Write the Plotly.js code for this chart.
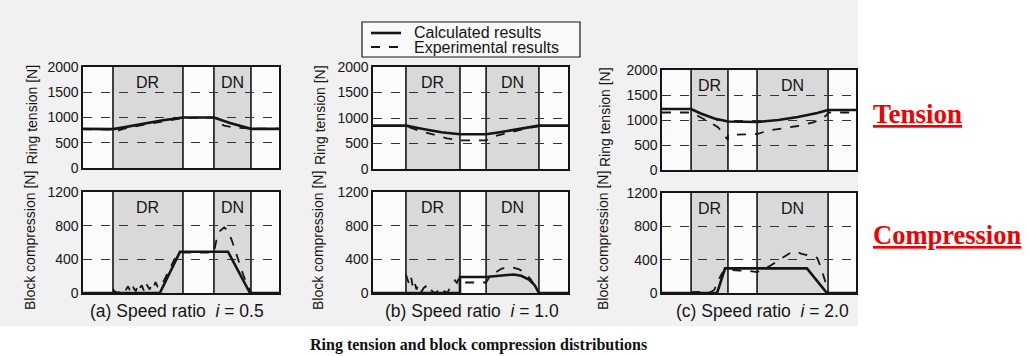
<!DOCTYPE html>
<html>
<head>
<meta charset="utf-8">
<script src="https://cdn.plot.ly/plotly-3.0.1.min.js"></script>
<style>html,body{margin:0;padding:0;background:#fff;}#chart{width:1029px;height:356px;}</style>
</head>
<body>
<div id="chart"></div>
<script>
// ---------- DATA ----------
const seriesNames = ['Calculated results', 'Experimental results'];
const panelCaptions = ['(a) Speed ratio  <i>i</i> = 0.5', '(b) Speed ratio  <i>i</i> = 1.0', '(c) Speed ratio  <i>i</i> = 2.0'];
const tensionTitle = 'Ring tension [N]';
const compressionTitle = 'Block compression [N]';
const tensionTicks = [0, 500, 1000, 1500, 2000];
const compressionTicks = [0, 400, 800, 1200];
const regionLabels = ['DR', 'DN'];

// region boundaries (position along belt, 0-100)
const drA = [15.3, 51.0], dnA = [66.8, 85.7];
const drB = [16.9, 44.6], dnB = [58.0, 85.1];
const drC = [15.0, 34.0], dnC = [49.0, 85.6];

// (a) i = 0.5
const tensCalcAx = [0, 15.3, 20, 30, 40, 51, 66.8, 75, 85.7, 100];
const tensCalcAy = [775, 770, 800, 870, 940, 1000, 1000, 890, 775, 775];
const tensExpAx = [0, 15.3, 16.5, 20, 30, 40, 45, 51, 66.8, 69, 72, 77, 85.7, 100];
const tensExpAy = [770, 760, 720, 770, 850, 920, 960, 990, 1000, 900, 840, 800, 780, 780];
const compCalcAx = [0, 39.2, 49.5, 74, 85.2, 100];
const compCalcAy = [0, 0, 490, 490, 0, 0];
const compExpAx = [15.3, 16, 17, 18, 19, 20, 21, 22, 23, 24, 25, 26, 27, 28, 29, 30, 31, 32, 33, 34, 35, 36, 37, 38, 39, 40, 42, 44, 46, 48, 49.5, 55, 60, 66.8, 68, 70, 72, 74, 76, 78, 80, 82, 84, 85.7];
const compExpAy = [50, 20, 10, 0, 30, 10, 0, 40, 80, 30, 100, 50, 20, 110, 60, 90, 30, 120, 70, 40, 100, 60, 130, 80, 110, 90, 180, 280, 370, 450, 480, 480, 480, 480, 620, 740, 780, 740, 620, 480, 340, 200, 90, 10];

// (b) i = 1.0
const tensCalcBx = [0, 16.9, 25, 35, 44.6, 58, 65, 75, 85.1, 100];
const tensCalcBy = [850, 850, 790, 720, 680, 680, 720, 790, 850, 850];
const tensExpBx = [0, 16.9, 22, 30, 38, 44.6, 58, 62, 70, 78, 85.1, 100];
const tensExpBy = [840, 840, 770, 680, 600, 560, 560, 640, 720, 790, 840, 840];
const compCalcBx = [0, 44.6, 44.6, 58, 62, 68, 72, 76, 80, 83, 85.1, 100];
const compCalcBy = [0, 0, 190, 190, 200, 215, 220, 205, 160, 90, 0, 0];
const compExpBx = [16.9, 17.8, 18.7, 19.6, 20.5, 21.4, 22.3, 23.2, 24.1, 25, 26, 27, 28, 29, 30, 31, 32, 33, 34, 35, 36, 37, 38, 39, 40, 41, 42, 43, 44, 44.6, 58, 60, 63, 66, 69, 72, 75, 78, 81, 83, 85.1];
const compExpBy = [220, 150, 90, 180, 60, 120, 40, 100, 30, 20, 60, 80, 40, 70, 30, 10, 0, 20, 50, 70, 30, 10, 0, 40, 80, 110, 150, 120, 170, 125, 125, 200, 250, 290, 305, 300, 280, 240, 160, 80, 0];

// (c) i = 2.0
const tensCalcCx = [0, 15, 20, 27, 34, 49, 60, 70, 80, 85.6, 100];
const tensCalcCy = [1220, 1220, 1130, 1030, 970, 960, 1000, 1060, 1140, 1200, 1200];
const tensExpCx = [0, 15, 20, 25, 29, 32, 34, 34, 49, 55, 62, 70, 78, 82, 85, 85.6, 100];
const tensExpCy = [1150, 1150, 1050, 950, 850, 700, 600, 700, 720, 790, 830, 880, 950, 1020, 1100, 1150, 1150];
const compCalcCx = [0, 28.4, 32.5, 74.7, 85, 100];
const compCalcCy = [0, 0, 296, 296, 0, 0];
const compExpCx = [15, 20, 25, 27, 29, 31, 33, 34, 40, 45, 49, 52, 56, 60, 63, 66, 68, 70, 72, 74, 76, 78, 80, 82, 84, 85.6];
const compExpCy = [10, 15, 10, 40, 150, 240, 280, 280, 270, 265, 250, 280, 330, 390, 440, 480, 500, 490, 470, 460, 445, 440, 420, 300, 150, 0];

// ---------- LAYOUT HELPERS ----------
const W = 1029, H = 356;
const px = v => v / W, py = v => 1 - v / H;

const panels = [
  {dr: drA, dn: dnA, xd: [83, 279], topY: [67, 168], botY: [192, 293], titleX: 32, capX: 177,
   t: [[tensCalcAx, tensCalcAy], [tensExpAx, tensExpAy]], c: [[compCalcAx, compCalcAy], [compExpAx, compExpAy]]},
  {dr: drB, dn: dnB, xd: [373, 568], topY: [67, 169], botY: [192, 293], titleX: 320, capX: 472,
   t: [[tensCalcBx, tensCalcBy], [tensExpBx, tensExpBy]], c: [[compCalcBx, compCalcBy], [compExpBx, compExpBy]]},
  {dr: drC, dn: dnC, xd: [662, 856], topY: [70, 170], botY: [193, 293], titleX: 605, capX: 762,
   t: [[tensCalcCx, tensCalcCy], [tensExpCx, tensExpCy]], c: [[compCalcCx, compCalcCy], [compExpCx, compExpCy]]}
];

const ink = '#151515';
const calcLine = {color: ink, width: 2.6};
const expLine = {color: ink, width: 1.8, dash: 'dash'};
const data = [];
const shapes = [];
const annotations = [];
const layout = {
  width: W, height: H,
  margin: {l: 0, r: 0, t: 0, b: 0},
  paper_bgcolor: '#ffffff',
  plot_bgcolor: 'rgba(0,0,0,0)',
  font: {family: 'Liberation Sans, Arial, sans-serif', color: ink},
  showlegend: false
};

// scanned page background
shapes.push({type: 'rect', xref: 'paper', yref: 'paper', x0: 0, x1: px(858), y0: py(326), y1: 1,
  fillcolor: '#f1f1f1', line: {width: 0}, layer: 'below'});

// legend box (drawn manually to match the compact original)
shapes.push({type: 'rect', xref: 'paper', yref: 'paper', x0: px(362), x1: px(580), y0: py(57), y1: py(22),
  fillcolor: '#f9f9f9', line: {color: ink, width: 1.2}, layer: 'above'});
[[33, calcLine], [47, expLine]].forEach(([yy, ln]) => {
  shapes.push({type: 'line', xref: 'paper', yref: 'paper', x0: px(371), x1: px(401), y0: py(yy), y1: py(yy),
    line: ln, layer: 'above'});
});
seriesNames.forEach((nm, si) => {
  annotations.push({xref: 'paper', yref: 'paper', x: px(412), y: py(si === 0 ? 32.5 : 47), text: nm,
    showarrow: false, xanchor: 'left', yanchor: 'middle', font: {size: 16, color: ink}});
});

panels.forEach((p, i) => {
  const topIdx = 2 * i + 1, botIdx = 2 * i + 2;
  [[topIdx, p.topY, tensionTicks, 2000, p.t], [botIdx, p.botY, compressionTicks, 1200, p.c]].forEach(([k, yd, ticks, ymax, series]) => {
    const xa = 'xaxis' + k, ya = 'yaxis' + k;
    const xr = 'x' + k, yr = 'y' + k;
    layout[xa] = {domain: [px(p.xd[0]), px(p.xd[1])], range: [0, 100], anchor: yr,
      showticklabels: false, showgrid: false, zeroline: false, ticks: '',
      showline: true, mirror: true, linecolor: ink, linewidth: 1.6, fixedrange: true};
    layout[ya] = {domain: [py(yd[1]), py(yd[0])], range: [0, ymax], anchor: xr,
      tickvals: ticks, ticktext: ticks.map(String), ticks: '',
      tickfont: {size: 14, color: ink, family: 'Liberation Sans, Arial, sans-serif'},
      showgrid: true, gridcolor: '#333', griddash: 'dash', gridwidth: 1,
      zeroline: false, showline: true, mirror: true, linecolor: ink, linewidth: 1.6, fixedrange: true};
    // plot background
    shapes.push({type: 'rect', xref: xr, yref: yr, x0: 0, x1: 100, y0: 0, y1: ymax,
      fillcolor: '#fbfbfb', line: {width: 0}, layer: 'below'});
    // shaded regions
    [p.dr, p.dn].forEach((reg, ri) => {
      shapes.push({type: 'rect', xref: xr, yref: yr, x0: reg[0], x1: reg[1], y0: 0, y1: ymax,
        fillcolor: '#d9d9d9', line: {width: 0}, layer: 'below'});
      reg.forEach(xv => shapes.push({type: 'line', xref: xr, yref: yr, x0: xv, x1: xv, y0: 0, y1: ymax,
        line: {color: ink, width: 1.6}, layer: 'below'}));
      annotations.push({xref: xr, yref: yr, x: (reg[0] + reg[1]) / 2, y: ymax * 0.845,
        text: regionLabels[ri], showarrow: false, xanchor: 'center', yanchor: 'middle',
        font: {size: 16, color: ink}});
    });
    // series
    series.forEach((s, si) => {
      data.push({type: 'scatter', mode: 'lines', x: s[0], y: s[1], xaxis: xr, yaxis: yr,
        name: seriesNames[si], legendgroup: seriesNames[si], showlegend: false,
        line: si === 0 ? calcLine : expLine, hoverinfo: 'skip'});
    });
  });
  // axis titles
  annotations.push({xref: 'paper', yref: 'paper', x: px(p.titleX), y: py((p.topY[0] + p.topY[1]) / 2 - 3),
    text: tensionTitle, textangle: -90, showarrow: false, xanchor: 'center', yanchor: 'middle',
    font: {size: 14, color: ink}});
  annotations.push({xref: 'paper', yref: 'paper', x: px(p.titleX - 2), y: py(241),
    text: compressionTitle, textangle: -90, showarrow: false, xanchor: 'center', yanchor: 'middle',
    font: {size: 14, color: ink}});
  annotations.push({xref: 'paper', yref: 'paper', x: px(p.capX), y: py(311),
    text: panelCaptions[i], showarrow: false, xanchor: 'center', yanchor: 'middle',
    font: {size: 17.5, color: ink}});
});

annotations.push({xref: 'paper', yref: 'paper', x: px(478), y: py(345),
  text: '<b>Ring tension and block compression distributions</b>', showarrow: false,
  xanchor: 'center', yanchor: 'middle',
  font: {size: 16, color: '#111', family: 'Liberation Serif, Times New Roman, serif'}});
annotations.push({xref: 'paper', yref: 'paper', x: px(871), y: py(114),
  text: '<b><u>Tension</u></b>', showarrow: false, xanchor: 'left', yanchor: 'middle',
  font: {size: 27, color: '#f00000', family: 'Liberation Serif, Times New Roman, serif'}});
annotations.push({xref: 'paper', yref: 'paper', x: px(871), y: py(235),
  text: '<b><u>Compression</u></b>', showarrow: false, xanchor: 'left', yanchor: 'middle',
  font: {size: 26.5, color: '#f00000', family: 'Liberation Serif, Times New Roman, serif'}});

layout.shapes = shapes;
layout.annotations = annotations;

Plotly.newPlot('chart', data, layout, {staticPlot: true, displayModeBar: false});
</script>
</body>
</html>
